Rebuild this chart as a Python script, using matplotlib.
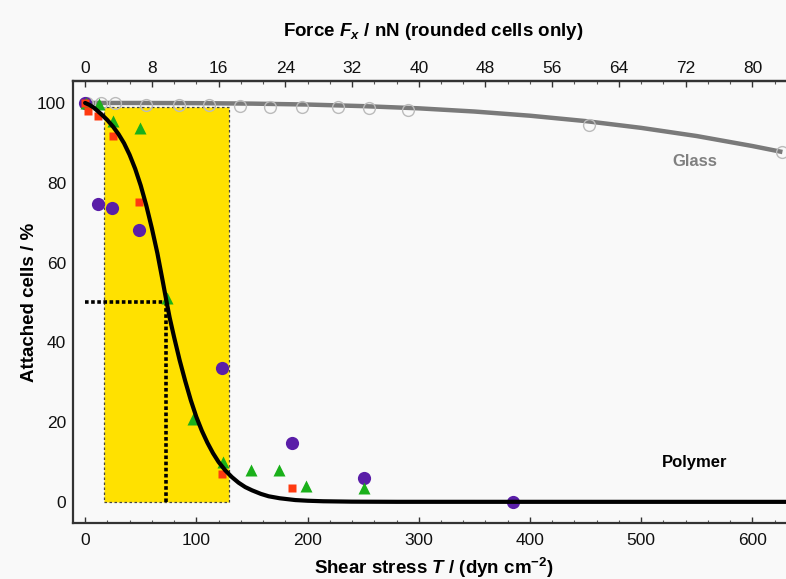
import matplotlib
matplotlib.use("Agg")
import matplotlib.pyplot as plt
from matplotlib.patches import Rectangle
from matplotlib.ticker import MultipleLocator

plt.rcParams['font.family'] = ['Liberation Sans', 'DejaVu Sans']
plt.rcParams['mathtext.fontset'] = 'custom'
plt.rcParams['mathtext.rm'] = 'Liberation Sans:bold'
plt.rcParams['mathtext.it'] = 'Liberation Sans:italic:bold'
plt.rcParams['mathtext.bf'] = 'Liberation Sans:bold'

# ---------------- data ----------------
# Glass: open circles and fitted curve
glass_x = [2, 14, 27, 55, 84, 111, 139, 166, 195, 227, 255, 290, 453, 627]
glass_y = [100, 100, 100, 99.5, 99.5, 99.5, 99.2, 99.0, 99.0, 99.0, 98.7, 98.2, 94.5, 87.7]
glass_line_x = [0, 50, 100, 150, 200, 250, 300, 350, 400, 450, 500, 550, 600, 627]
glass_line_y = [100, 99.99, 99.95, 99.83, 99.6, 99.2, 98.65, 97.85, 96.8, 95.45,
                93.75, 91.7, 89.2, 87.7]

# Polymer: three series of measurements
red_x = [0, 3, 12, 25, 48.5, 123, 186]
red_y = [100, 98, 96.7, 91.7, 75.2, 7, 3.5]
green_x = [1, 12.7, 25, 49, 73.6, 97, 124, 149, 174, 199, 251]
green_y = [100, 99.7, 95.5, 93.8, 51, 20.8, 10, 8, 8, 4, 3.5]
purple_x = [0, 12, 24.5, 48, 123, 186, 251, 385]
purple_y = [100, 74.7, 73.7, 68.2, 33.6, 14.8, 6, 0]

# Polymer fitted curve (read points)
poly_line_x = [0, 4, 8, 12, 16, 20, 25, 30, 35, 40, 45, 50, 55, 60, 65, 70, 73, 76,
               80, 85, 90, 95, 100, 105, 110, 115, 120, 126, 132, 138, 144, 150,
               158, 165, 175, 189, 200, 214, 240, 280, 630]
poly_line_y = [100, 99.5, 98.8, 97.8, 96.8, 95.7, 94.1, 92.2, 89.9, 87.0, 83.5, 79.3,
               74.3, 68.6, 62.3, 55.0, 50.5, 46.2, 41.3, 35.5, 30.3, 25.5, 21.3, 17.8,
               14.8, 12.2, 10.0, 7.9, 6.2, 4.8, 3.7, 2.9, 2.0, 1.4, 0.9, 0.45, 0.28,
               0.15, 0.05, 0.01, 0]

# Highlighted range and 50 % point
band_x = [17, 129]
band_top = 99
half_x = 73
half_y = 50

x_ticks = [0, 100, 200, 300, 400, 500, 600]
y_ticks = [0, 20, 40, 60, 80, 100]
force_ticks = [0, 8, 16, 24, 32, 40, 48, 56, 64, 72, 80]
force_per_stress = 80 / 600

# ---------------- figure ----------------
bg = '#f9f9f9'
fig = plt.figure(figsize=(7.86, 5.79), dpi=100, facecolor=bg)
ax = fig.add_axes([73 / 786, 56 / 579, 1 - 73 / 786 + 0.01, (498 - 56) / 579])
ax.set_facecolor(bg)

ax.add_patch(Rectangle((band_x[0], 0), band_x[1] - band_x[0], band_top,
                       facecolor='#ffe100', edgecolor='#444444', lw=0.9,
                       linestyle=(0, (2, 2)), zorder=1))

ax.plot([0, half_x], [half_y, half_y], color='black', lw=2.6,
        linestyle=(0, (1, 0.7)), zorder=2)
ax.plot([half_x, half_x], [half_y, 0], color='black', lw=2.6,
        linestyle=(0, (1, 0.7)), zorder=2)

ax.plot(glass_line_x, glass_line_y, color='#7a7a7a', lw=3.2, zorder=3,
        solid_capstyle='butt', solid_joinstyle='round')
ax.plot(glass_x, glass_y, 'o', ms=8.5, mfc='none', mec='#bbbbbb', mew=1.0, zorder=3)

ax.plot(purple_x, purple_y, 'o', ms=9.5, color='#5a1ea8', mec='none', zorder=4)
ax.plot(green_x, green_y, '^', ms=8, color='#1ab01a', mec='none', zorder=4)
ax.plot(red_x, red_y, 's', ms=5.5, color='#ff3a10', mec='none', zorder=4)

ax.plot(poly_line_x, poly_line_y, color='black', lw=3.0, zorder=5,
        solid_joinstyle='round', solid_capstyle='round')

ax.text(548, 85.2, 'Glass', color='#808080', fontsize=12, fontweight='bold',
        ha='center', va='center')
ax.text(548, 9.8, 'Polymer', color='black', fontsize=12, fontweight='bold',
        ha='center', va='center')

ax.set_xlim(-10.9, 637.3)
ax.set_ylim(-5.3, 105.5)
ax.set_xticks(x_ticks)
ax.set_yticks(y_ticks)
ax.xaxis.set_minor_locator(MultipleLocator(20))
ax.tick_params(axis='both', which='major', direction='in', labelsize=12.5,
               length=4, width=1, colors='#333333', labelcolor='#111111')
ax.tick_params(axis='x', which='minor', direction='in', length=2, width=0.8,
               colors='#555555')
ax.tick_params(axis='y', which='major', length=0, pad=5)
ax.tick_params(axis='x', which='major', pad=7)

for side in ['left', 'bottom', 'top']:
    ax.spines[side].set_color('#333333')
    ax.spines[side].set_linewidth(1.6)
ax.spines['right'].set_visible(False)

ax.set_ylabel('Attached cells / %', fontsize=13.5, fontweight='bold', labelpad=-1)
ax.set_xlabel(r'Shear stress $\mathit{T}$ / (dyn cm$^{\mathrm{-2}}$)',
              fontsize=13.5, fontweight='bold', labelpad=6)

sec = ax.secondary_xaxis('top', functions=(lambda s: s * force_per_stress,
                                           lambda f: f / force_per_stress))
sec.set_xticks(force_ticks)
sec.xaxis.set_minor_locator(MultipleLocator(8 / 3))
sec.tick_params(axis='x', which='major', direction='in', labelsize=12.5,
                length=4, width=1, colors='#333333', labelcolor='#111111', pad=3.5)
sec.tick_params(axis='x', which='minor', direction='in', length=2, width=0.8,
                colors='#555555')
sec.spines['top'].set_color('#333333')
sec.spines['top'].set_linewidth(1.6)
sec.set_xlabel(r'Force $\mathit{F}_{\mathit{x}}$ / nN (rounded cells only)',
               fontsize=13.5, fontweight='bold', labelpad=18)

fig.savefig('out.png', dpi=100, facecolor=bg)
